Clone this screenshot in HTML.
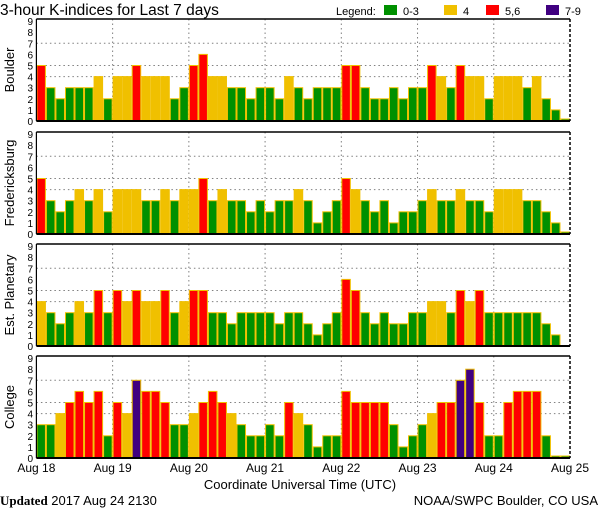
<!DOCTYPE html>
<html><head><meta charset="utf-8"><style>
body{margin:0;background:#fff;width:600px;height:510px;overflow:hidden}
svg{display:block;font-family:"Liberation Sans",sans-serif}
</style></head><body>
<svg id="c" width="600" height="510">
<text x="0" y="15" font-size="15.5">3-hour K-indices for Last 7 days</text>
<g font-size="11">
<text x="336" y="15">Legend:</text>
<rect x="384" y="5" width="13" height="10" fill="#009000"/>
<text x="403" y="15">0-3</text>
<rect x="444" y="5" width="13" height="10" fill="#f0c000"/>
<text x="463" y="15">4</text>
<rect x="486" y="5" width="13" height="10" fill="#ff0000"/>
<text x="505" y="15">5,6</text>
<rect x="546" y="5" width="13" height="10" fill="#400080"/>
<text x="565" y="15">7-9</text>
</g>
<text x="300" y="489" font-size="13" text-anchor="middle">Coordinate Universal Time (UTC)</text>
<text x="0" y="505" font-size="13"><tspan font-weight="bold" font-family="Liberation Serif,serif">Updated</tspan> 2017 Aug 24 2130</text>
<text x="598" y="505" font-size="13" text-anchor="end">NOAA/SWPC Boulder, CO USA</text>
</svg>
<script>
const stations = ["Boulder","Fredericksburg","Est. Planetary","College"];
const boulder = [5,3,2,3,3,3,4,2, 4,4,5,4,4,4,2,3, 5,6,4,4,3,3,2,3, 3,2,4,3,2,3,3,3, 5,5,3,2,2,3,2,3, 3,5,4,3,5,4,4,2, 4,4,4,3,4,2,1,0];
const fredericksburg = [5,3,2,3,4,3,4,2, 4,4,4,3,3,4,3,4, 4,5,3,4,3,3,2,3, 2,3,3,4,3,1,2,3, 5,4,3,2,3,1,2,2, 3,4,3,3,4,3,3,2, 4,4,4,3,3,2,1,0];
const planetary = [4,3,2,3,4,3,5,3, 5,4,5,4,4,5,3,4, 5,5,3,3,2,3,3,3, 3,2,3,3,2,1,2,3, 6,5,3,2,3,2,2,3, 3,4,4,3,5,4,5,3, 3,3,3,3,3,2,1,null];
const college = [3,3,4,5,6,5,6,2, 5,4,7,6,6,5,3,3, 4,5,6,5,4,3,2,2, 3,2,5,4,3,1,2,2, 6,5,5,5,5,3,1,2, 3,4,5,5,7,8,5,2, 2,5,6,6,6,2,0,0];
const series = [boulder, fredericksburg, planetary, college];
const dayLabels = ["Aug 18","Aug 19","Aug 20","Aug 21","Aug 22","Aug 23","Aug 24","Aug 25"];
const yTicks = [0,1,2,3,4,5,6,7,8,9];
const gridLevels = [4,5,7];

const svg = document.getElementById('c');
const NS = 'http://www.w3.org/2000/svg';
const X0 = 36.4, X1 = 570, tops = [19,132,244,356], H = 102, UNIT = 11.1;
const nBars = 56;
const bw = (X1 - X0) / nBars;
const xScale = i => X0 + i * bw;
function mk(tag, attrs){const e=document.createElementNS(NS,tag);for(const k in attrs)e.setAttribute(k,attrs[k]);svg.appendChild(e);return e;}
function color(v){return v<=3?'#009000':v==4?'#f0c000':v<=6?'#ff0000':'#400080';}

series.forEach((vals, p) => {
  const top = tops[p], bot = top + H;
  const yScale = v => bot - v * UNIT;
  gridLevels.forEach(l => {
    const g = mk('line',{x1:X0,x2:X1,y1:yScale(l),y2:yScale(l),stroke:'#808080','stroke-dasharray':'1.5,3'});
    
    
  });
  for (let d = 1; d < 7; d++) {
    const g = mk('line',{x1:xScale(d*8),x2:xScale(d*8),y1:top,y2:bot,stroke:'#808080','stroke-dasharray':'1.5,3'});
    
    
  }
  vals.forEach((v, i) => {
    if (v === null) return;
    const h = v === 0 ? 2 : v * UNIT;
    const r = mk('rect',{x:xScale(i)+0.5,y:bot-h,width:bw-1,height:h,fill:color(v),stroke:'#f0c000','stroke-width':1});
    
    
  });
  const frame = [[X0,top,X1,top,'none',1.5],[X0,bot,X1,bot,'none',2],[X0,top,X0,bot,'none',1.2],[X1,top,X1,bot,'3,2',1.5]];
  frame.forEach(f => {
    const l = mk('line',{x1:f[0],y1:f[1],x2:f[2],y2:f[3],stroke:'#000','stroke-width':f[5],'stroke-dasharray':f[4]});
    
    
  });
  yTicks.forEach(t => {
    const tx = mk('text',{x:33,y:yScale(t)+4,'font-size':10,'text-anchor':'end'});
    tx.textContent = t;
    
    
  });
  const cy = top + H/2;
  const lab = mk('text',{x:14,y:cy,'font-size':13,'text-anchor':'middle',transform:'rotate(-90 14 '+cy+')'});
  lab.textContent = stations[p];
  
  
});
dayLabels.forEach((d, i) => {
  const t = mk('text',{x:xScale(i*8),y:472,'font-size':12,'text-anchor':'middle'});
  t.textContent = d;
  
  
});
</script>
</body></html>
